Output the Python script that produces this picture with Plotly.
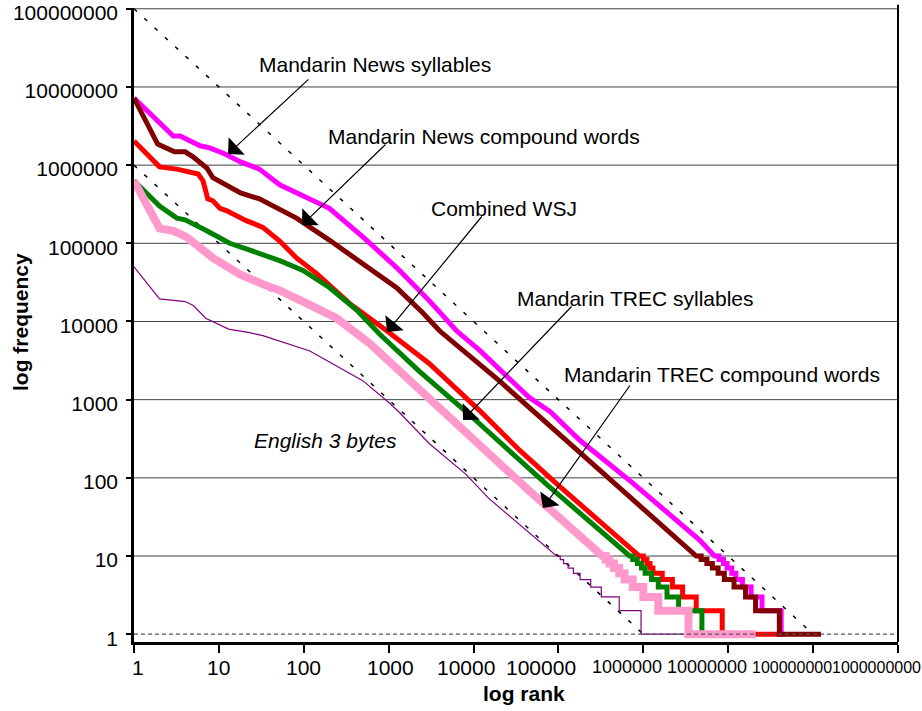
import math
import plotly.graph_objects as go

FONT = "Liberation Sans, Arial, sans-serif"

# ---- data (rank, frequency) ----
# head of each curve down to frequency 10; below that the curve steps
# through integer counts, *_drops = rank where count falls 10->9, ..., 2->1
rank_news_syl = [1, 2.9, 3.5, 6, 7.8, 12, 18, 30, 52, 117, 200, 500, 1240, 3000,
                 6300, 12000, 45000, 80000, 180000, 740000, 4.6e6, 6.9e6]
freq_news_syl = [7.2e6, 2.35e6, 2.35e6, 1.77e6, 1.66e6, 1.38e6, 1.1e6, 8.9e5, 5.6e5,
                 3.6e5, 2.8e5, 1.2e5, 4.9e4, 1.85e4, 7600, 4200, 1070, 700, 300, 87,
                 16, 10]
drops_news_syl = [7.8e6, 8.8e6, 9.7e6, 1.1e7, 1.23e7, 1.47e7, 1.86e7, 2.5e7, 4.2e7]
end_news_syl = 4.6e7

rank_news_cw = [1, 1.9, 3, 4, 5, 7.2, 8.5, 11, 18, 30, 48, 82, 200, 495, 1240, 2500,
                3970, 20000, 300000, 1.9e6, 4.2e6]
freq_news_cw = [7.2e6, 1.86e6, 1.48e6, 1.48e6, 1.27e6, 9.2e5, 6.9e5, 5.9e5, 4.4e5,
                3.7e5, 2.8e5, 2.1e5, 1.1e5, 5.5e4, 2.7e4, 1.3e4, 7600, 1750, 126,
                21, 10]
drops_news_cw = [4.8e6, 5.6e6, 6.5e6, 7.6e6, 9e6, 1.17e7, 1.6e7, 2.1e7, 4.0e7]
end_news_cw = 1.24e8

rank_wsj = [1, 2, 3.2, 4.8, 5.7, 6.5, 7.4, 8.5, 10.3, 12.4, 21, 33, 52, 82, 142, 346,
            950, 3000, 11700, 35000, 100000, 9e5]
freq_wsj = [2.04e6, 9.5e5, 8.9e5, 7.9e5, 7.7e5, 6.3e5, 3.7e5, 3.5e5, 2.8e5, 2.6e5,
            1.95e5, 1.6e5, 1.07e5, 6.5e4, 4.1e4, 1.7e4, 7600, 2900, 730, 224, 80, 10]
drops_wsj = [1.0e6, 1.1e6, 1.2e6, 1.3e6, 1.67e6, 2.2e6, 2.9e6, 4.2e6, 8.5e6]
end_wsj = 4.0e7

rank_trec_syl = [1, 2, 3.2, 4, 7.2, 13.4, 21, 52, 98, 202, 420, 780, 2300, 8200,
                 72000, 6.9e5]
freq_trec_syl = [6.3e5, 3.0e5, 2.1e5, 2.0e5, 1.45e5, 1.0e5, 8.5e4, 6.0e4, 4.5e4,
                 2.7e4, 1.4e4, 6900, 2300, 700, 83, 10]
drops_trec_syl = [7.5e5, 8.5e5, 9.5e5, 1.05e6, 1.25e6, 1.5e6, 1.9e6, 2.6e6, 4.9e6]
end_trec_syl = 1.2e7

rank_trec_cw = [1, 2, 2.9, 4.2, 8.5, 17.7, 33, 52, 108, 244, 600, 1350, 3000, 8200,
                49000, 3.3e5]
freq_trec_cw = [6.3e5, 1.55e5, 1.44e5, 1.2e5, 6.5e4, 4.0e4, 3.0e4, 2.5e4, 1.7e4,
                1.1e4, 5200, 2300, 1000, 390, 63, 10]
drops_trec_cw = [3.6e5, 4.0e5, 4.5e5, 5.2e5, 6.0e5, 7.5e5, 1.0e6, 1.5e6, 3.4e6]
end_trec_cw = 2.1e7

rank_eng3 = [1, 2, 4, 5, 7, 10, 13, 23, 33, 118, 244, 495, 1030, 1350, 3000, 8200,
             15000, 95000]
freq_eng3 = [5e4, 1.95e4, 1.8e4, 1.6e4, 1.1e4, 9100, 8000, 7200, 6600, 4200, 2700,
             1750, 900, 680, 275, 110, 55, 10]
drops_eng3 = [1.05e5, 1.15e5, 1.3e5, 1.5e5, 1.8e5, 2.4e5, 3.2e5, 5.2e5, 9.4e5]
end_eng3 = 3e6

# Zipf reference lines (slope -1)
zipf_hi_rank = [1, 1e8]
zipf_hi_freq = [1e8, 1]
zipf_lo_rank = [1, 1e6]
zipf_lo_freq = [1e6, 1]

x_tick_vals = [1, 10, 100, 1000, 1e4, 1e5, 1e6, 1e7, 1e8, 1e9]
x_tick_text = ["1", "10", "100", "1000", "10000", "100000", "1000000", "10000000",
               "100000000", "1000000000"]
y_tick_vals = [1, 10, 100, 1000, 1e4, 1e5, 1e6, 1e7, 1e8]
y_tick_text = ["1", "10", "100", "1000", "10000", "100000", "1000000", "10000000",
               "100000000"]


def stairs(ranks, freqs, drops, end):
    xs, ys = list(ranks), list(freqs)
    for level, r in zip(range(10, 1, -1), drops):
        xs += [r, r]
        ys += [level, level - 1]
    xs.append(end)
    ys.append(1)
    return xs, ys


# plot area in page pixels (left, right, top, bottom)
L, R, T, B = 134, 898, 8, 642


def paper(px, py):
    return (px - L) / (R - L), (B - py) / (B - T)


fig = go.Figure()

for xr, yr in [(zipf_hi_rank, zipf_hi_freq), (zipf_lo_rank, zipf_lo_freq)]:
    fig.add_trace(go.Scatter(x=xr, y=yr, mode="lines", hoverinfo="skip",
                             line=dict(color="black", width=1.5, dash="4px,10px")))

series = [
    ("English 3 bytes", rank_eng3, freq_eng3, drops_eng3, end_eng3, "#800080", 1.2),
    ("Combined WSJ", rank_wsj, freq_wsj, drops_wsj, end_wsj, "#ff0000", 5),
    ("Mandarin TREC syllables", rank_trec_syl, freq_trec_syl, drops_trec_syl,
     end_trec_syl, "#008000", 5),
    ("Mandarin TREC compound words", rank_trec_cw, freq_trec_cw, drops_trec_cw,
     end_trec_cw, "#ff99cc", 8),
    ("Mandarin News syllables", rank_news_syl, freq_news_syl, drops_news_syl,
     end_news_syl, "#ff00ff", 5),
    ("Mandarin News compound words", rank_news_cw, freq_news_cw, drops_news_cw,
     end_news_cw, "#800000", 5),
]
for name, r, f, d, e, color, w in series:
    xs, ys = stairs(r, f, d, e)
    fig.add_trace(go.Scatter(x=xs, y=ys, mode="lines", name=name,
                             line=dict(color=color, width=w)))

# horizontal grid
for v in y_tick_vals[1:]:
    fig.add_shape(type="line", xref="paper", x0=0, x1=1, yref="y",
                  y0=v, y1=v, layer="below",
                  line=dict(color="#404040", width=1))
fig.add_shape(type="line", xref="paper", x0=0, x1=1, yref="y", y0=1, y1=1,
              line=dict(color="#555555", width=1.3, dash="4px,3px"))
# right border of the plot area
fig.add_shape(type="line", xref="paper", yref="paper", x0=1, x1=1, y0=0, y1=1.005,
              line=dict(color="black", width=2))

# x tick labels (Excel shrinks and nudges the long ones)
label_shift = [4, 0, 0, 2, -8, -17, -16, -21, -21, -22]
label_size = [21, 21, 21, 21, 21, 21, 18, 18, 16, 16]
for v, t, s, fs in zip(x_tick_vals, x_tick_text, label_shift, label_size):
    fig.add_annotation(x=math.log10(v), xref="x", y=paper(0, 667)[1], yref="paper",
                       text=t, showarrow=False, xshift=s, xanchor="center",
                       yanchor="middle", font=dict(size=fs))

# series labels
labels = [
    ("Mandarin News syllables", 374.5, 64, False),
    ("Mandarin News compound words", 484, 137, False),
    ("Combined WSJ", 503.5, 208, False),
    ("Mandarin TREC syllables", 635, 298, False),
    ("Mandarin TREC compound words", 722, 375, False),
    ("English 3 bytes", 325, 440, True),
]
for text, px, py, italic in labels:
    x, y = paper(px, py)
    fig.add_annotation(x=x, y=y, xref="paper", yref="paper", showarrow=False,
                       xanchor="center", yanchor="middle",
                       text=f"<i>{text}</i>" if italic else text, font=dict(size=21))

# arrows: (tip px, tip py, tail px, tail py)
arrows = [
    (228, 154, 310, 78),
    (302, 225, 387, 143),
    (387, 332, 483, 215),
    (463, 420, 573, 305),
    (543, 508, 631, 384),
]
for tx, ty, sx, sy in arrows:
    x, y = paper(tx, ty)
    fig.add_annotation(x=x, y=y, xref="paper", yref="paper", text="",
                       showarrow=True, arrowhead=1, arrowsize=3.3, arrowwidth=1.2,
                       arrowcolor="black", ax=sx - tx, ay=sy - ty, standoff=0)

# axis titles
x, y = paper(20, 322)
fig.add_annotation(x=x, y=y, xref="paper", yref="paper", text="<b>log frequency</b>",
                   textangle=-90, showarrow=False, xanchor="center", yanchor="middle",
                   font=dict(size=21))
x, y = paper(524, 693)
fig.add_annotation(x=x, y=y, xref="paper", yref="paper", text="<b>log rank</b>",
                   showarrow=False, xanchor="center", yanchor="middle",
                   font=dict(size=21))

fig.update_xaxes(type="log", range=[0, 9], showgrid=False, zeroline=False,
                 automargin=False,
                 showline=True, linecolor="black", linewidth=2.5,
                 ticks="outside", ticklen=8, tickwidth=2, tickcolor="black",
                 tickmode="array", tickvals=x_tick_vals, showticklabels=False)
fig.update_yaxes(type="log", range=[-0.1, 8.01], showgrid=False, zeroline=False,
                 automargin=False,
                 showline=True, linecolor="black", linewidth=2.5,
                 ticks="outside", ticklen=5, tickwidth=2, tickcolor="black",
                 tickmode="array", tickvals=y_tick_vals, ticktext=y_tick_text,
                 tickfont=dict(size=21), ticklabelstandoff=4, ticklabelshift=4,
                 ticklabeloverflow="allow")
fig.update_layout(
    width=922, height=711,
    margin=dict(l=L, r=922 - R, t=T, b=711 - B),
    plot_bgcolor="white", paper_bgcolor="white",
    showlegend=False,
    font=dict(family=FONT, color="black", size=21),
)

fig.write_html("out.html", config={"displayModeBar": False},
               post_script="document.body.style.margin = '0';")
